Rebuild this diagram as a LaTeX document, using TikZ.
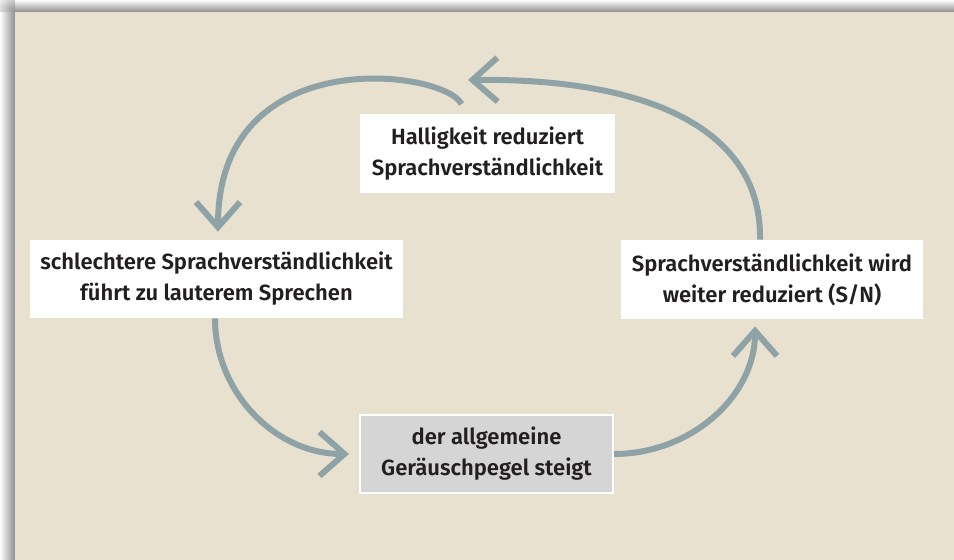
\documentclass[tikz,border=0pt]{standalone}
\usepackage{fontspec}
\setmainfont{Fira Sans}[BoldFont={Fira Sans SemiBold}]
\usepackage{tikz}
\usetikzlibrary{arrows.meta, calc}
\usepackage{xcolor}
\definecolor{paper}{RGB}{232,225,208}
\definecolor{loopgrey}{RGB}{143,163,166}
\definecolor{boxgrey}{RGB}{213,213,213}
\definecolor{ink}{RGB}{35,31,32}
\definecolor{shade}{RGB}{140,140,140}

\begin{document}
\begin{tikzpicture}[x=0.5pt, y=-0.5pt,
        box/.style={fill=white, text=ink, align=center, inner sep=0pt, font=\bfseries\fontsize{11}{15.5}\selectfont},
        loop/.style={draw=loopgrey, line width=3pt, -{Straight Barb[length=12.5pt, width=22pt]}}]

        \fill[white] (0,0) rectangle (954,560);
        \useasboundingbox (0,0) rectangle (954,560);
        % soft shadow along top and left edge
        \shade[left color=white, right color=shade] (0,12) rectangle (15,560);
        \shade[top color=white, bottom color=shade] (15,0) rectangle (954,12);
        \begin{scope}
            \clip (0,0) rectangle (15,12);
            \shade[inner color=shade, outer color=white] (15,12) circle (22);
        \end{scope}
        \fill[paper] (15,12) rectangle (954,560);

        \node[box, minimum width=127.5pt, minimum height=39.5pt] (hall) at (487.5,154) {Halligkeit reduziert\\Sprachverständlichkeit};
        \node[box, minimum width=186.5pt, minimum height=39pt] (schlecht) at (216.5,279) {schlechtere Sprachverständlichkeit\\führt zu lauterem Sprechen};
        \node[box, minimum width=151pt, minimum height=39.5pt] (weiter) at (772,279.5) {Sprachverständlichkeit wird\\weiter reduziert (S/N)};
        \node[box, fill=boxgrey, draw=white, line width=1pt, minimum width=126.5pt, minimum height=39pt] (pegel) at (486.5,454) {der allgemeine\\Geräuschpegel steigt};

        \coordinate (top) at (468,80);

        \draw[loop] ($(weiter.north)+(-12,0)$) .. controls (762,130) and (650,78) .. (top);
        \draw[loop] ($(hall.north)+(-26,-10)$) .. controls (445,70) and (218,40) .. ($(schlecht.north)+(1.5,-8)$);
        \draw[loop] ($(schlecht.south)+(-1.5,0)$) .. controls (215,393) and (276,454) .. ($(pegel.west)+(-10,0)$);
        \draw[loop] (pegel.east) .. controls (691,454) and (755,396) .. ($(weiter.south)+(-17,7)$);

    \end{tikzpicture}
\end{document}
